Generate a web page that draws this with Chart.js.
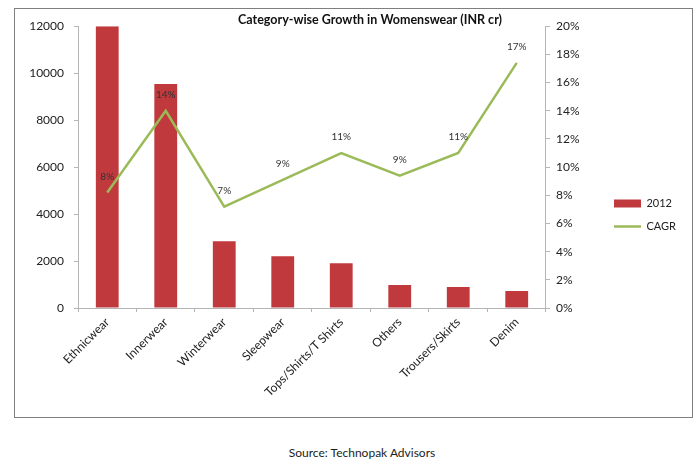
<!DOCTYPE html>
<html lang="en">

<head>
    <meta charset="UTF-8">
    <title>Category-wise Growth in Womenswear</title>
    <script src="https://cdn.jsdelivr.net/npm/chart.js"></script>
    <style>
        body {
            margin: 0;
            width: 698px;
            height: 463px;
            background: #fff;
            font-family: Lato, "Open Sans", sans-serif;
            position: relative;
            overflow: hidden;
        }

        .caixa {
            position: absolute;
            left: 14px;
            top: 8px;
            width: 679px;
            height: 410px;
            box-sizing: border-box;
            border: 1px solid #7f7f7f;
        }

        .fonte {
            position: absolute;
            left: 0;
            width: 724px;
            top: 445px;
            text-align: center;
            font-size: 12px;
            color: #222;
        }
    </style>
</head>

<body>
    <div class="caixa">
        <canvas id="myChart"></canvas>
    </div>
    <div class="fonte">Source: Technopak Advisors</div>
</body>

</html>
<script>

    // dados
    const categorias = ['Ethnicwear', 'Innerwear', 'Winterwear', 'Sleepwear', 'Tops/Shirts/T Shirts', 'Others', 'Trousers/Skirts', 'Denim'];
    const vendas2012 = [12000, 9540, 2840, 2200, 1910, 975, 890, 720];
    const cagr = [8.2, 14.0, 7.2, 9.1, 11.0, 9.4, 11.0, 17.4];
    const rotulosCagr = ['8%', '14%', '7%', '9%', '11%', '9%', '11%', '17%'];
    const titulo = 'Category-wise Growth in Womenswear (INR cr)';

    const cinza = '#b5b5b5';

    // escreve os rotulos da linha e o titulo
    const rotulos = {
        id: 'rotulos',
        afterDatasetsDraw(chart) {
            const c = chart.ctx;
            const meta = chart.getDatasetMeta(1);
            c.save();
            c.font = '10px Lato, sans-serif';
            c.fillStyle = '#333';
            c.textAlign = 'center';
            c.textBaseline = 'middle';
            meta.data.forEach(function (p, i) {
                c.fillText(rotulosCagr[i], p.x, p.y - 16);
            });
            c.font = 'bold 12.5px Lato, sans-serif';
            c.fillStyle = '#111';
            c.fillText(titulo, 355, 11);
            c.restore();
        }
    };

    const ctx = document.getElementById('myChart');

    var Grafico = new Chart(ctx, {
        type: 'bar',
        data: {
            labels: categorias,
            datasets: [{
                label: '2012',
                data: vendas2012,
                backgroundColor: '#c0393c',
                borderWidth: 0,
                barPercentage: 0.39,
                categoryPercentage: 1,
                pointStyle: 'rect',
                yAxisID: 'y',
                order: 2
            }, {
                type: 'line',
                label: 'CAGR',
                data: cagr,
                borderColor: '#9bbb59',
                backgroundColor: '#9bbb59',
                borderWidth: 2.5,
                pointRadius: 0,
                pointStyle: 'line',
                tension: 0,
                yAxisID: 'y1',
                order: 1
            }]
        },
        plugins: [rotulos],
        options: {
            responsive: true,
            maintainAspectRatio: false,
            animation: false,
            layout: {
                padding: { top: 4, left: 0, right: 6, bottom: 0 }
            },
            plugins: {
                tooltip: { enabled: false },
                // espaco em cima so da area do grafico (o titulo e desenhado no plugin)
                title: {
                    display: true,
                    text: '',
                    fullSize: false,
                    font: { size: 1, lineHeight: 1 },
                    padding: { top: 0, bottom: 11 }
                },
                legend: {
                    position: 'right',
                    labels: {
                        usePointStyle: true,
                        pointStyleWidth: 27,
                        boxHeight: 8,
                        padding: 12,
                        color: '#222',
                        font: { family: 'Lato', size: 11 },
                        sort: function (a, b) { return a.datasetIndex - b.datasetIndex; }
                    }
                }
            },
            scales: {
                x: {
                    grid: {
                        drawOnChartArea: false,
                        drawTicks: true,
                        tickLength: 4,
                        color: cinza
                    },
                    border: { color: cinza },
                    ticks: {
                        color: '#222',
                        font: { family: 'Lato', size: 12 },
                        maxRotation: 45,
                        minRotation: 45,
                        autoSkip: false
                    },
                    afterFit: function (s) { s.height = 109; }
                },
                y: {
                    position: 'left',
                    min: 0,
                    max: 12000,
                    ticks: {
                        stepSize: 2000,
                        color: '#222',
                        font: { family: 'Lato', size: 12 },
                        padding: 10,
                        callback: function (v) { return String(v); }
                    },
                    grid: {
                        drawOnChartArea: false,
                        tickLength: 4,
                        color: cinza
                    },
                    border: { color: cinza },
                    afterFit: function (s) { s.width = 63; }
                },
                y1: {
                    position: 'right',
                    min: 0,
                    max: 20,
                    ticks: {
                        stepSize: 2,
                        color: '#222',
                        font: { family: 'Lato', size: 12 },
                        padding: 6,
                        callback: function (v) { return v + '%'; }
                    },
                    grid: {
                        drawOnChartArea: false,
                        tickLength: 4,
                        color: cinza
                    },
                    border: { color: cinza },
                    afterFit: function (s) { s.width = 56; }
                }
            }
        }
    });

</script>
